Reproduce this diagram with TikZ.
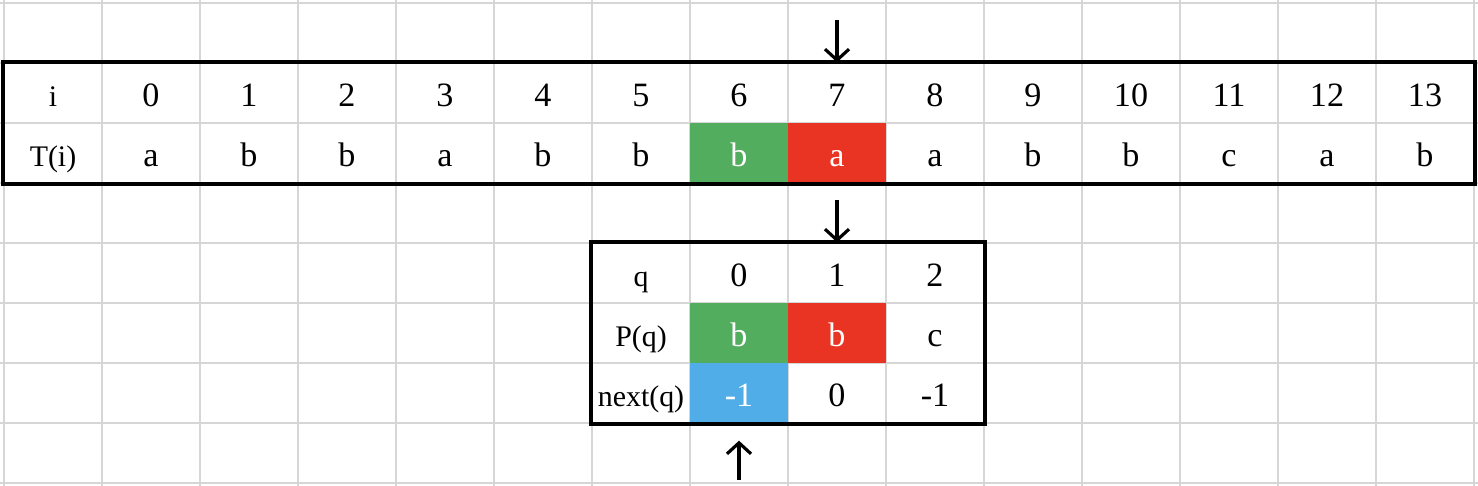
\documentclass[tikz,border=0pt]{standalone}
\usepackage{fontspec}
\setmainfont{Liberation Serif}
\usetikzlibrary{arrows.meta}

\definecolor{hitgreen}{RGB}{82,173,94}
\definecolor{missred}{RGB}{233,51,35}
\definecolor{nextblue}{RGB}{81,173,232}
\definecolor{sheetgrey}{RGB}{214,214,214}

\tikzset{
    cell/.style={minimum width=0.98cm, minimum height=0.6cm, inner sep=0pt, text height=0.28cm, text depth=0pt, font=\fontsize{9.7}{11}\selectfont},
    head/.style={cell, font=\fontsize{8.5}{10}\selectfont},
    hit/.style={cell, fill=hitgreen, text=white},
    miss/.style={cell, fill=missred, text=white},
    jump/.style={cell, fill=nextblue, text=white},
    frame/.style={draw, line width=1.15pt},
    ptr/.style={->, >={Straight Barb[length=1.1mm,width=2.4mm]}, line width=0.9pt},
}

\begin{document}
\begin{tikzpicture}
        \useasboundingbox (0,0) rectangle (14.78,-4.86);
        % spreadsheet grid
        \begin{scope}
            \clip (0,0) rectangle (14.78,-4.86);
            \draw[sheetgrey, line width=0.57pt, xstep=0.98, ystep=0.6, xshift=0.4mm, yshift=-0.3mm] (-1,-5.4) grid (15.5,0.5);
        \end{scope}

        % text T(i)
        \node[head] (ihead) at (0.53,-0.93) {i};
        \node[cell] (i0) at (1.51,-0.93) {0};
        \node[cell] (i1) at (2.49,-0.93) {1};
        \node[cell] (i2) at (3.47,-0.93) {2};
        \node[cell] (i3) at (4.45,-0.93) {3};
        \node[cell] (i4) at (5.43,-0.93) {4};
        \node[cell] (i5) at (6.41,-0.93) {5};
        \node[cell] (i6) at (7.39,-0.93) {6};
        \node[cell] (i7) at (8.37,-0.93) {7};
        \node[cell] (i8) at (9.35,-0.93) {8};
        \node[cell] (i9) at (10.33,-0.93) {9};
        \node[cell] (i10) at (11.31,-0.93) {10};
        \node[cell] (i11) at (12.29,-0.93) {11};
        \node[cell] (i12) at (13.27,-0.93) {12};
        \node[cell] (i13) at (14.25,-0.93) {13};

        \node[head] (thead) at (0.53,-1.53) {T(i)};
        \node[cell] (t0) at (1.51,-1.53) {a};
        \node[cell] (t1) at (2.49,-1.53) {b};
        \node[cell] (t2) at (3.47,-1.53) {b};
        \node[cell] (t3) at (4.45,-1.53) {a};
        \node[cell] (t4) at (5.43,-1.53) {b};
        \node[cell] (t5) at (6.41,-1.53) {b};
        \node[hit] (t6) at (7.39,-1.53) {b};
        \node[miss] (t7) at (8.37,-1.53) {a};
        \node[cell] (t8) at (9.35,-1.53) {a};
        \node[cell] (t9) at (10.33,-1.53) {b};
        \node[cell] (t10) at (11.31,-1.53) {b};
        \node[cell] (t11) at (12.29,-1.53) {c};
        \node[cell] (t12) at (13.27,-1.53) {a};
        \node[cell] (t13) at (14.25,-1.53) {b};

        \draw[frame] (ihead.north west) rectangle (t13.south east);

        % pattern P(q) and next(q)
        \node[head] (qhead) at (6.41,-2.73) {q};
        \node[cell] (q0) at (7.39,-2.73) {0};
        \node[cell] (q1) at (8.37,-2.73) {1};
        \node[cell] (q2) at (9.35,-2.73) {2};

        \node[head] (phead) at (6.41,-3.33) {P(q)};
        \node[hit] (p0) at (7.39,-3.33) {b};
        \node[miss] (p1) at (8.37,-3.33) {b};
        \node[cell] (p2) at (9.35,-3.33) {c};

        \node[head] (nhead) at (6.41,-3.93) {next(q)};
        \node[jump] (n0) at (7.39,-3.93) {-1};
        \node[cell] (n1) at (8.37,-3.93) {0};
        \node[cell] (n2) at (9.35,-3.93) {-1};

        \draw[frame] (qhead.north west) rectangle (n2.south east);

        % pointers
        \coordinate (textptr) at (8.37,-0.20);
        \coordinate (patptr) at (8.37,-2.00);
        \coordinate (nextptr) at (7.39,-4.80);
        \draw[ptr] (textptr) -- (i7.north);
        \draw[ptr] (patptr) -- (q1.north);
        \draw[ptr] (nextptr) -- ([yshift=-1.7mm]n0.south);
    \end{tikzpicture}
\end{document}
